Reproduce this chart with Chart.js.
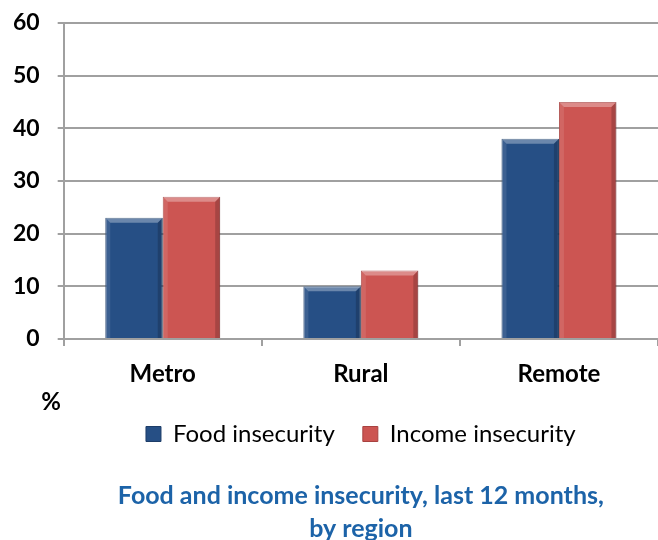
<!DOCTYPE html>
<html>
<head>
<meta charset="utf-8">
<script src="https://cdn.jsdelivr.net/npm/chart.js"></script>
<style>
  html, body { margin: 0; padding: 0; background: #fff; overflow: hidden; }
  #wrap { width: 658px; height: 540px; position: relative; }
</style>
</head>
<body>
<div id="wrap"><canvas id="chart"></canvas></div>
<script>
const regions = ["Metro", "Rural", "Remote"];
const foodInsecurity = [23, 10, 38];
const incomeInsecurity = [27, 13, 45];
const yTicks = [0, 10, 20, 30, 40, 50, 60];
const titleLines = ["Food and income insecurity, last 12 months,", "by region"];

const FONT = "Lato, 'Liberation Sans', sans-serif";

// the "%" unit label that sits under the y axis
const percentLabel = {
  id: "percentLabel",
  afterDraw(chart) {
    const ctx = chart.ctx;
    ctx.save();
    ctx.font = "bold 24px " + FONT;
    ctx.fillStyle = "#000";
    ctx.textAlign = "center";
    ctx.textBaseline = "middle";
    ctx.fillText("%", 51, 402);
    ctx.restore();
  }
};

// fake the bevelled look of the office chart bars
const bevel = {
  id: "bevel",
  afterDatasetsDraw(chart) {
    const ctx = chart.ctx;
    const b = 5;
    chart.data.datasets.forEach((ds, i) => {
      chart.getDatasetMeta(i).data.forEach(bar => {
        const l = bar.x - bar.width / 2, r = bar.x + bar.width / 2;
        const t = bar.y, bot = bar.base;
        ctx.save();
        ctx.beginPath();
        ctx.moveTo(l, t); ctx.lineTo(r, t); ctx.lineTo(r - b, t + b); ctx.lineTo(l + b, t + b);
        ctx.closePath();
        ctx.fillStyle = "rgba(255,255,255,0.32)";
        ctx.fill();
        ctx.beginPath();
        ctx.moveTo(l, t); ctx.lineTo(l + b, t + b); ctx.lineTo(l + b, bot); ctx.lineTo(l, bot);
        ctx.closePath();
        ctx.fillStyle = "rgba(255,255,255,0.10)";
        ctx.fill();
        ctx.beginPath();
        ctx.moveTo(r, t); ctx.lineTo(r - b, t + b); ctx.lineTo(r - b, bot); ctx.lineTo(r, bot);
        ctx.closePath();
        ctx.fillStyle = "rgba(0,0,0,0.18)";
        ctx.fill();
        ctx.restore();
      });
    });
  }
};

new Chart(document.getElementById("chart"), {
  type: "bar",
  data: {
    labels: regions,
    datasets: [
      {
        label: "Food insecurity",
        data: foodInsecurity,
        backgroundColor: "#264f85",
        borderColor: "#1d3d68",
        borderWidth: 1
      },
      {
        label: "Income insecurity",
        data: incomeInsecurity,
        backgroundColor: "#cc5552",
        borderColor: "#a84240",
        borderWidth: 1
      }
    ]
  },
  options: {
    responsive: true,
    maintainAspectRatio: false,
    animation: false,
    datasets: {
      bar: { categoryPercentage: 0.58, barPercentage: 1 }
    },
    layout: { padding: { left: -5, top: 23, right: 0, bottom: -5 } },
    scales: {
      x: {
        afterFit(scale) { scale.height = 55; },
        grid: { drawOnChartArea: false, color: "#a0a0a0", lineWidth: 2, tickLength: 7 },
        border: { color: "#a0a0a0", width: 2 },
        ticks: {
          color: "#000",
          font: { family: FONT, size: 24, weight: "bold" },
          padding: 14
        }
      },
      y: {
        min: 0,
        max: 60,
        afterBuildTicks(scale) {
          scale.ticks = yTicks.map(v => ({ value: v }));
        },
        // tick padding would otherwise push the plot top down
        afterFit(scale) { scale.paddingTop = 0; },
        grid: { color: "#a0a0a0", lineWidth: 2, tickLength: 6 },
        border: { color: "#a0a0a0", width: 2 },
        ticks: {
          color: "#000",
          font: { family: FONT, size: 23, weight: "bold" },
          padding: 18
        }
      }
    },
    plugins: {
      legend: {
        position: "bottom",
        fullSize: false,
        labels: {
          color: "#000",
          font: { family: FONT, size: 24 },
          boxWidth: 15,
          boxHeight: 15,
          padding: 28
        }
      },
      title: {
        display: true,
        position: "bottom",
        fullSize: false,
        text: titleLines,
        color: "#1c63a8",
        font: { family: FONT, size: 25, weight: "bold", lineHeight: 1.32 },
        padding: { top: 23, bottom: 0 }
      },
      tooltip: { enabled: false }
    }
  },
  plugins: [percentLabel, bevel]
});
</script>
</body>
</html>
